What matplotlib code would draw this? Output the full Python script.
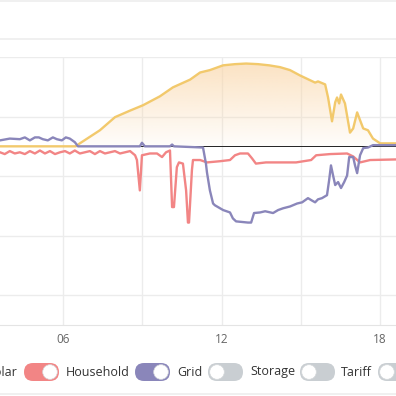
import matplotlib
matplotlib.use('Agg')
import matplotlib.pyplot as plt
import numpy as np
from matplotlib.patches import FancyBboxPatch, Circle
from matplotlib.lines import Line2D

plt.rcParams['font.family'] = ['Open Sans', 'DejaVu Sans']

# values (hour of day, kW)
solar_h = [3.62, 6.49, 6.64, 7.02, 7.40, 7.97, 8.54, 9.03, 9.67, 10.16, 10.81, 11.19, 11.56,
           12.06, 12.51, 12.93, 13.38, 13.80, 14.21, 14.59, 14.97, 15.54, 15.65, 15.92, 16.03,
           16.18, 16.30, 16.37, 16.45, 16.52, 16.67, 16.86, 16.98, 17.13, 17.24, 17.36, 17.54,
           17.73, 18.00, 18.60]
solar_kw = [0.0, 0.0, 0.05, 0.16, 0.27, 0.49, 0.60, 0.69, 0.84, 0.99, 1.12, 1.24, 1.28,
            1.36, 1.38, 1.39, 1.38, 1.36, 1.33, 1.28, 1.19, 1.07, 1.09, 1.04, 0.82,
            0.42, 0.74, 0.82, 0.72, 0.87, 0.72, 0.23, 0.30, 0.57, 0.44, 0.30, 0.27,
            0.13, 0.05, 0.05]

grid_h = [3.62, 3.99, 4.37, 4.56, 4.75, 4.94, 5.09, 5.24, 5.43, 5.62, 5.77, 5.96, 6.11, 6.26,
          6.45, 6.57, 8.91, 8.99, 9.10, 10.05, 10.13, 10.20, 11.30, 11.41, 11.45, 11.56, 11.68,
          11.75, 12.06, 12.32, 12.43, 12.55, 13.00, 13.12, 13.23, 13.46, 13.65, 13.95, 14.14,
          14.33, 14.59, 14.86, 15.05, 15.27, 15.42, 15.54, 15.65, 15.80, 15.99, 16.07, 16.14,
          16.22, 16.30, 16.41, 16.52, 16.64, 16.75, 16.83, 16.98, 17.05, 17.13, 17.24, 17.36,
          17.54, 17.73, 18.60]
grid_kw = [0.10, 0.13, 0.12, 0.15, 0.10, 0.15, 0.15, 0.12, 0.10, 0.15, 0.12, 0.10, 0.15, 0.13,
           0.07, 0.0, 0.0, 0.06, 0.0, 0.0, 0.03, 0.0, -0.02, -0.29, -0.44, -0.74, -0.96,
           -0.99, -1.07, -1.11, -1.21, -1.26, -1.28, -1.28, -1.12, -1.11, -1.09, -1.12, -1.07,
           -1.04, -1.01, -0.96, -0.94, -0.87, -0.91, -0.94, -0.89, -0.87, -0.82, -0.57, -0.32,
           -0.49, -0.65, -0.60, -0.70, -0.60, -0.49, -0.18, -0.18, -0.32, -0.45, -0.15, -0.03,
           -0.02, 0.02, 0.02]

house_h = [3.62, 3.80, 3.99, 4.18, 4.37, 4.56, 4.75, 4.94, 5.13, 5.32, 5.51, 5.70, 5.89, 6.08,
           6.26, 6.45, 6.64, 6.83, 7.02, 7.21, 7.40, 7.59, 7.78, 7.97, 8.16, 8.35, 8.54, 8.73,
           8.80, 8.91, 8.99, 9.29, 9.56, 9.75, 9.90, 10.05, 10.13, 10.20, 10.31, 10.39, 10.54,
           10.66, 10.73, 10.77, 10.88, 10.92, 11.19, 11.45, 11.94, 12.32, 12.51, 12.70, 13.00,
           13.15, 13.30, 13.68, 14.33, 14.82, 15.39, 15.58, 16.11, 16.75, 16.98, 17.24, 17.62,
           18.60]
house_kw = [-0.10, -0.13, -0.08, -0.12, -0.10, -0.13, -0.08, -0.12, -0.07, -0.12, -0.08, -0.13,
            -0.10, -0.08, -0.12, -0.07, -0.12, -0.10, -0.08, -0.13, -0.08, -0.12, -0.10, -0.08,
            -0.12, -0.10, -0.08, -0.15, -0.23, -0.74, -0.15, -0.12, -0.12, -0.18, -0.10, -0.07,
            -1.02, -1.02, -0.35, -0.27, -0.29, -0.74, -1.28, -1.28, -0.40, -0.23, -0.23, -0.27,
            -0.25, -0.23, -0.15, -0.12, -0.12, -0.20, -0.29, -0.27, -0.27, -0.27, -0.23, -0.15,
            -0.13, -0.12, -0.17, -0.27, -0.23, -0.22]

tick_hours = [6, 9, 12, 15, 18]
tick_labels = ['06', '', '12', '', '18']
legend_items = ['Solar', 'Household', 'Grid', 'Storage', 'Tariff', '']
legend_on = [True, True, True, False, False, False]

SOLAR = '#F2C96C'
HOUSE = '#F28585'
GRID = '#8A86BA'
OFF = '#C9CED2'

W = 396.0
fig = plt.figure(figsize=(3.96, 3.96), dpi=100)
ax = fig.add_axes([0, (W - 325) / W, 1, 268 / W])
ax.set_xlim(3.62, 18.60)
ax.set_ylim(-3.0, 1.5)

# gradient fill under the solar line
fill = ax.fill_between(solar_h, solar_kw, 0, facecolor='none', edgecolor='none')
grad = np.zeros((100, 1, 4))
grad[:, 0, 0] = 250 / 255
grad[:, 0, 1] = 215 / 255
grad[:, 0, 2] = 170 / 255
grad[:, 0, 3] = np.linspace(0.05, 0.7, 100)
im = ax.imshow(grad, extent=[3.62, 18.60, 0, max(solar_kw)], origin='lower',
               aspect='auto', zorder=1)
im.set_clip_path(fill.get_paths()[0], transform=ax.transData)

ax.axhline(0, color='#222222', lw=0.7, zorder=2)
ax.plot(solar_h, solar_kw, color=SOLAR, lw=1.7, zorder=3, solid_joinstyle='round')
ax.plot(house_h, house_kw, color=HOUSE, lw=1.7, zorder=4, solid_joinstyle='round')
ax.plot(grid_h, grid_kw, color=GRID, lw=1.7, zorder=5, solid_joinstyle='round')

ax.set_xticks(tick_hours)
ax.set_xticklabels(tick_labels)
ax.set_yticks([-2.5, -1.5, -0.5, 0.5, 1.5])
ax.set_yticklabels([])
ax.tick_params(length=0, pad=6, labelsize=8.5, labelcolor='#666666')
ax.grid(True, color='#ececec', lw=1)
ax.set_axisbelow(True)
for s in ['left', 'right', 'top']:
    ax.spines[s].set_visible(False)
ax.spines['bottom'].set_color('#e4e4e4')

# separator lines of the card
for yp in [1, 39, 394]:
    fig.add_artist(Line2D([0, 1], [(W - yp) / W] * 2, color='#eeeeee', lw=1.2,
                          transform=fig.transFigure))

# toggle legend
toggle_x = [-56, 24, 135, 208, 300, 378]
text_x = [17, 66, 177, 250, 341, 0]
colors = [SOLAR, HOUSE, GRID, OFF, OFF, OFF]
yc = 372
tw, th = 35, 18
for i, name in enumerate(legend_items):
    x0 = toggle_x[i]
    pill = FancyBboxPatch((x0 / W, (W - yc - th / 2) / W), tw / W, th / W,
                          boxstyle='round,pad=0,rounding_size=%f' % (th / 2 / W),
                          transform=fig.transFigure, facecolor=colors[i], edgecolor='none')
    fig.add_artist(pill)
    kx = x0 + tw - th / 2 if legend_on[i] else x0 + th / 2
    knob = Circle((kx / W, (W - yc) / W), 7.3 / W, transform=fig.transFigure,
                  facecolor='white', edgecolor='#d5d8db', lw=0.5)
    fig.add_artist(knob)
    if name:
        ha = 'right' if i == 0 else 'left'
        fig.text(text_x[i] / W, (W - yc) / W, name, ha=ha, va='center',
                 fontsize=9, color='#333333')

fig.savefig('out.png', dpi=100)
